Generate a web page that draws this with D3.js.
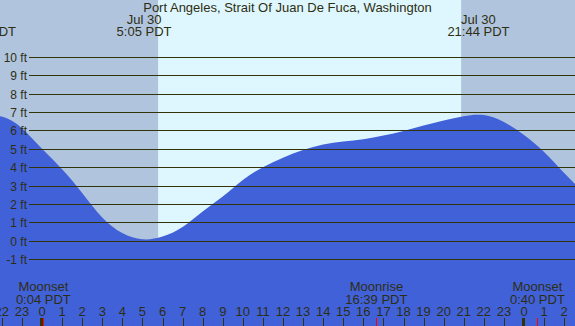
<!DOCTYPE html>
<html>
<head>
<meta charset="utf-8">
<script src="https://cdn.jsdelivr.net/npm/d3@7"></script>
<style>
    body { margin: 0; padding: 0; overflow: hidden; }
    svg { display: block; }
    text { font-family: "Liberation Sans", Arial, sans-serif; fill: #2e2e12; }
</style>
</head>
<body>
<div id="tideChart"></div>
<script>
// hours since Jul 30 0:00 PDT, tide height in feet
const tideHours = [-3, -2, -1, 0, 1, 2, 3, 4, 5, 6, 7, 8, 9, 10, 11, 12, 13, 14, 15, 16, 17, 18, 19, 20, 21, 22, 23, 24, 25, 26, 27]
const tideFeet = [6.7, 6.76, 6.12, 5.0, 3.89, 2.6, 1.26, 0.41, 0.07, 0.22, 0.74, 1.58, 2.4, 3.3, 4.0, 4.52, 4.93, 5.23, 5.4, 5.52, 5.72, 5.97, 6.27, 6.54, 6.78, 6.84, 6.46, 5.75, 4.82, 3.68, 2.6]

const nightStarts = [-3, 20.87]
const nightEnds = [5.78, 27]

const sunTimes = [-2.84, 5.083, 21.733]
const sunDates = ["", "Jul 30", "Jul 30"]
const sunLabels = ["21:45 PDT", "5:05 PDT", "21:44 PDT"]

const moonTimes = [0.067, 16.65, 24.667]
const moonNames = ["Moonset", "Moonrise", "Moonset"]
const moonLabels = ["0:04 PDT", "16:39 PDT", "0:40 PDT"]

const feetTicks = [-1, 0, 1, 2, 3, 4, 5, 6, 7, 8, 9, 10]
const hourTicks = d3.range(-2, 27)
const midnights = [0, 24]

const title = "Port Angeles, Strait Of Juan De Fuca, Washington"

const width = 575
const height = 326
const lineColor = "#33330a"

const x = d3.scaleLinear().domain([0, 24]).range([42, 524])
const y = d3.scaleLinear().domain([-1, 10]).range([259, 57])

const svg = d3.select("#tideChart")
    .append("svg")
    .attr("width", width)
    .attr("height", height)

// daylight background, then night bands
svg.append("rect")
    .attr("width", width)
    .attr("height", height)
    .attr("fill", "#def7fe")

svg.selectAll(".night")
    .data(nightStarts)
    .enter().append("rect")
    .attr("class", "night")
    .attr("x", (d, i) => x(d))
    .attr("y", 0)
    .attr("width", (d, i) => x(nightEnds[i]) - x(d))
    .attr("height", height)
    .attr("fill", "#b0c4de")

const area = d3.area()
    .x((d, i) => x(tideHours[i]))
    .y0(height)
    .y1(d => y(d))
    .curve(d3.curveNatural)

svg.append("path")
    .datum(tideFeet)
    .attr("d", area)
    .attr("fill", "#4161d9")

// feet grid
const crisp = v => Math.round(v) + 0.5

svg.selectAll(".ftLine")
    .data(feetTicks)
    .enter().append("line")
    .attr("class", "ftLine")
    .attr("x1", 29)
    .attr("x2", width)
    .attr("y1", d => crisp(y(d)))
    .attr("y2", d => crisp(y(d)))
    .attr("stroke", lineColor)
    .attr("stroke-width", 1)

svg.selectAll(".ftLabel")
    .data(feetTicks)
    .enter().append("text")
    .attr("class", "ftLabel")
    .attr("x", 27)
    .attr("y", d => crisp(y(d)) + 4)
    .attr("text-anchor", "end")
    .attr("font-size", 12)
    .text(d => d + " ft")

// title and sun labels
svg.append("text")
    .attr("x", width / 2)
    .attr("y", 12)
    .attr("text-anchor", "middle")
    .attr("font-size", 13)
    .text(title)

svg.selectAll(".sunDate")
    .data(sunTimes)
    .enter().append("text")
    .attr("class", "sunDate")
    .attr("x", d => x(d))
    .attr("y", 23.5)
    .attr("text-anchor", "middle")
    .attr("font-size", 13)
    .text((d, i) => sunDates[i])

svg.selectAll(".sunTime")
    .data(sunTimes)
    .enter().append("text")
    .attr("class", "sunTime")
    .attr("x", d => x(d))
    .attr("y", 36)
    .attr("text-anchor", "middle")
    .attr("font-size", 13)
    .text((d, i) => sunLabels[i])

// moon labels
svg.selectAll(".moonName")
    .data(moonTimes)
    .enter().append("text")
    .attr("class", "moonName")
    .attr("x", d => x(d))
    .attr("y", 291)
    .attr("text-anchor", "middle")
    .attr("font-size", 13)
    .text((d, i) => moonNames[i])

svg.selectAll(".moonTime")
    .data(moonTimes)
    .enter().append("text")
    .attr("class", "moonTime")
    .attr("x", d => x(d))
    .attr("y", 303.5)
    .attr("text-anchor", "middle")
    .attr("font-size", 13)
    .text((d, i) => moonLabels[i])

// hour axis
svg.selectAll(".hourTick")
    .data(hourTicks)
    .enter().append("line")
    .attr("class", "hourTick")
    .attr("x1", d => crisp(x(d)))
    .attr("x2", d => crisp(x(d)))
    .attr("y1", 318)
    .attr("y2", height)
    .attr("stroke", lineColor)

svg.selectAll(".midnight")
    .data(midnights)
    .enter().append("rect")
    .attr("class", "midnight")
    .attr("x", d => Math.round(x(d)) - 2)
    .attr("y", 318)
    .attr("width", 3)
    .attr("height", height - 318)
    .attr("fill", lineColor)

svg.selectAll(".moonTick")
    .data(moonTimes)
    .enter().append("line")
    .attr("class", "moonTick")
    .attr("x1", d => crisp(x(d)))
    .attr("x2", d => crisp(x(d)))
    .attr("y1", 318)
    .attr("y2", height)
    .attr("stroke", "#ff0000")

svg.selectAll(".hourLabel")
    .data(hourTicks)
    .enter().append("text")
    .attr("class", "hourLabel")
    .attr("x", d => x(d))
    .attr("y", 315.5)
    .attr("text-anchor", "middle")
    .attr("font-size", 13)
    .text(d => ((d % 24) + 24) % 24)
</script>
</body>
</html>
